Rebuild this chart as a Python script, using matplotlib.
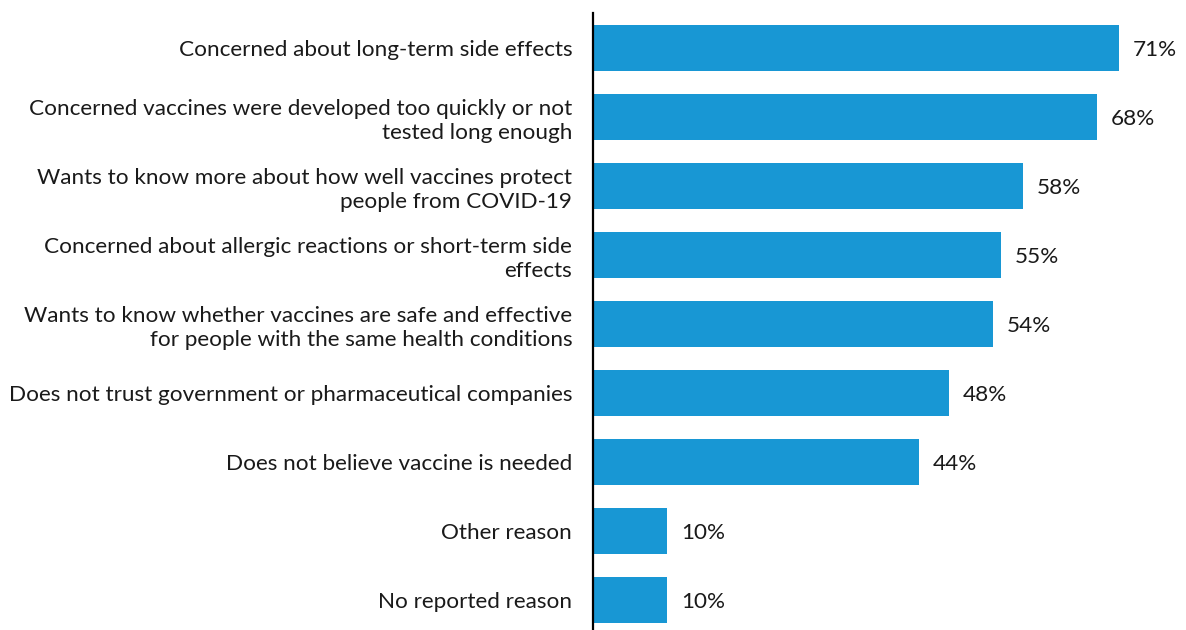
import matplotlib.pyplot as plt

# Reasons given for not getting vaccinated (share of respondents, %)
reasons = [
    "Concerned about long-term side effects",
    "Concerned vaccines were developed too quickly or not\ntested long enough",
    "Wants to know more about how well vaccines protect\npeople from COVID-19",
    "Concerned about allergic reactions or short-term side\neffects",
    "Wants to know whether vaccines are safe and effective\nfor people with the same health conditions",
    "Does not trust government or pharmaceutical companies",
    "Does not believe vaccine is needed",
    "Other reason",
    "No reported reason",
]
shares = [71, 68, 58, 55, 54, 48, 44, 10, 10]

bar_color = "#1897d4"
text_color = "#1a1a1a"

plt.rcParams['font.family'] = ['Lato', 'DejaVu Sans']

fig = plt.figure(figsize=(11.86, 6.3), dpi=100)
ax = fig.add_axes([0.5, -0.007, 0.5, 0.986])

pos = list(range(len(reasons)))
ax.barh(pos, shares, height=0.67, color=bar_color)

for p, v in zip(pos, shares):
    ax.annotate(f"{v}%", xy=(v, p), xytext=(10, -1.5), textcoords="offset points",
                va="center", ha="left", fontsize=16.2, color=text_color)

ax.set_xlim(0, 80)
ax.set_ylim(8.5, -0.5)
ax.set_yticks(pos)
ax.set_yticklabels(reasons, fontsize=16.2, color=text_color, linespacing=1.25)
ax.tick_params(axis="y", length=0, pad=15)
ax.set_xticks([])

for side in ["top", "right", "bottom"]:
    ax.spines[side].set_visible(False)
ax.spines["left"].set_linewidth(1.6)
ax.spines["left"].set_color("black")

fig.savefig("out.png", dpi=100)
